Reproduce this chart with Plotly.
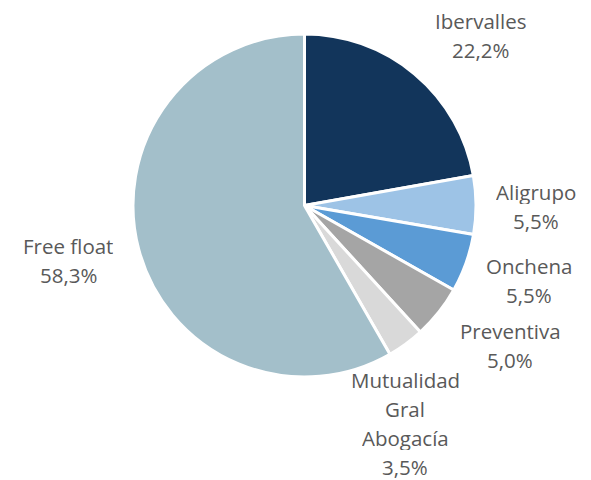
import plotly.graph_objects as go

# shareholder structure
holders = ['Ibervalles', 'Aligrupo', 'Onchena', 'Preventiva',
           'Mutualidad Gral Abogacía', 'Free float']
shares = [22.2, 5.5, 5.5, 5.0, 3.5, 58.3]
colors = ['#12355B', '#9DC3E6', '#5B9BD5', '#A5A5A5', '#D9D9D9', '#A3BFCA']

# label lines (name split as in the original) and their anchor in pixels
label_lines = [
    ['Ibervalles'],
    ['Aligrupo'],
    ['Onchena'],
    ['Preventiva'],
    ['Mutualidad', 'Gral', 'Abogacía'],
    ['Free float'],
]
label_pos = [(480, 21), (536, 192), (529, 266), (510, 331), (405, 380), (68, 246)]

W, H = 591, 480
OFF = 8  # page body margin
LINE_H = 29

fig = go.Figure()

fig.add_trace(
    go.Pie(
        labels=holders,
        values=shares,
        marker=dict(colors=colors, line=dict(color='white', width=3)),
        sort=False,
        direction='clockwise',
        rotation=0,
        textinfo='none',
        hoverinfo='label+percent',
        showlegend=False,
        domain=dict(x=[(133 - OFF) / W, (476 - OFF) / W],
                    y=[1 - (378 - OFF) / H, 1 - (33 - OFF) / H]),
    )
)

# labels outside the pie, one annotation per line
for lines, share, (px, py) in zip(label_lines, shares, label_pos):
    texts = lines + [f'{share:.1f}%'.replace('.', ',')]
    for i, t in enumerate(texts):
        fig.add_annotation(
            x=(px - OFF) / W,
            y=1 - (py - OFF + i * LINE_H) / H,
            xref='paper',
            yref='paper',
            text=t,
            showarrow=False,
            xanchor='center',
            yanchor='middle',
            height=24,
            borderpad=0,
            font=dict(family='Open Sans', size=20.5, color='#595959'),
        )

fig.update_layout(
    width=W,
    height=H,
    margin=dict(l=0, r=0, t=0, b=0),
    paper_bgcolor='white',
    plot_bgcolor='white',
)

fig.write_html('out.html')
